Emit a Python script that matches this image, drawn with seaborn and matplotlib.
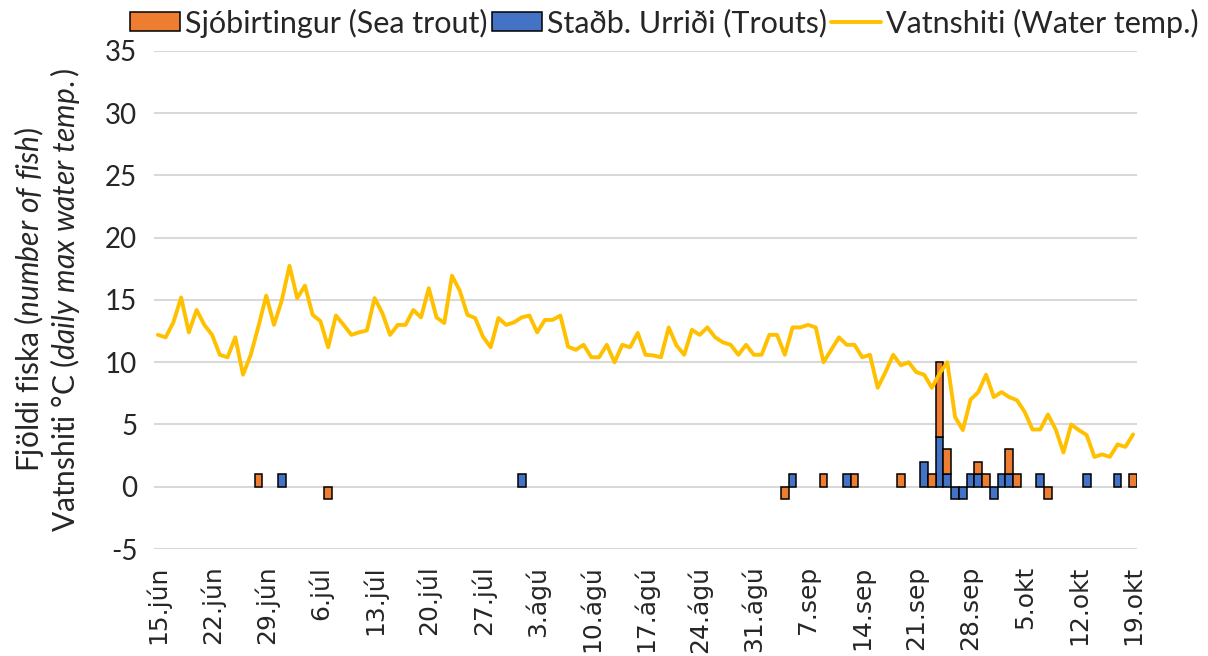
import numpy as np
import matplotlib
matplotlib.use("Agg")
import matplotlib.pyplot as plt
import seaborn as sns
from matplotlib.patches import Patch
from matplotlib.lines import Line2D

# daily max water temperature, 15 Jun .. 19 Oct (day 0 .. 126)
temp = [
    12.2, 12.0, 13.2, 15.2, 12.4, 14.2, 13.0, 12.2, 10.6, 10.4, 12.0, 9.0, 10.6, 12.9, 15.35, 13.0, 14.95, 17.75, 15.15, 16.15, 13.8, 13.3,
    11.2, 13.75, 13.0, 12.2, 12.4, 12.55, 15.15, 13.95, 12.2, 13.0, 13.0, 14.2, 13.6, 15.95, 13.6, 13.15, 16.95, 15.75, 13.8, 13.55, 12.05,
    11.2, 13.55, 13.0, 13.2, 13.6, 13.75, 12.4, 13.4, 13.4, 13.75, 11.25, 11.0, 11.4, 10.4, 10.4, 11.4, 10.0, 11.4, 11.2, 12.35, 10.6, 10.55,
    10.4, 12.8, 11.35, 10.6, 12.6, 12.2, 12.8, 12.0, 11.6, 11.4, 10.6, 11.4, 10.6, 10.6, 12.2, 12.2, 10.6, 12.8, 12.8, 13.0, 12.8, 10.0,
    11.0, 12.0, 11.4, 11.4, 10.4, 10.6, 7.95, 9.2, 10.6, 9.75, 10.0, 9.2, 9.0, 7.95, 9.1, 10.0, 5.6, 4.55, 7.0, 7.6, 9.0,
    7.2, 7.6, 7.2, 6.95, 6.0, 4.6, 4.6, 5.8, 4.6, 2.75, 5.0, 4.55, 4.15, 2.4, 2.6, 2.4, 3.4, 3.2, 4.2,
]

# fish counts (day index -> count, negative = downstream)
sea_days = [13, 22, 81, 86, 90, 96, 100, 101, 102, 106, 107, 110, 111, 115, 126]
sea_counts = [1, -1, -1, 1, 1, 1, 1, 6, 2, 1, 1, 2, 1, -1, 1]
trout_days = [16, 47, 82, 89, 99, 101, 102, 103, 104, 105, 106, 108, 109, 110, 114, 120, 124]
trout_counts = [1, 1, 1, 1, 2, 4, 1, -1, -1, 1, 1, -1, 1, 1, 1, 1, 1]

tick_labels = ["15.jún", "22.jún", "29.jún", "6.júl", "13.júl", "20.júl", "27.júl",
               "3.ágú", "10.ágú", "17.ágú", "24.ágú", "31.ágú", "7.sep", "14.sep",
               "21.sep", "28.sep", "5.okt", "12.okt", "19.okt"]

n_days = len(temp)
days = np.arange(n_days)
sea = np.zeros(n_days)
sea[sea_days] = sea_counts
trout = np.zeros(n_days)
trout[trout_days] = trout_counts
# orange stacks on blue when both go the same way
sea_bottom = np.where(np.sign(sea) == np.sign(trout), trout, 0)

sns.set_theme(style="white")
plt.rcParams["font.family"] = ["Lato", "DejaVu Sans"]
plt.rcParams["mathtext.fontset"] = "custom"
plt.rcParams["mathtext.rm"] = "Lato"
plt.rcParams["mathtext.it"] = "Lato:italic"
plt.rcParams["axes.unicode_minus"] = False

ORANGE = "#ED7D31"
BLUE = "#4472C4"
YELLOW = "#FFC000"

fig = plt.figure(figsize=(12.08, 6.56), dpi=100)
ax = fig.add_axes([0.1275, 0.1631, 0.8137, 0.7592])

m = trout != 0
ax.bar(days[m], trout[m], width=1.0, color=BLUE, edgecolor="black", linewidth=1.1, zorder=2)
m = sea != 0
ax.bar(days[m], sea[m], width=1.0, bottom=sea_bottom[m], color=ORANGE, edgecolor="black",
       linewidth=1.1, zorder=2)
sns.lineplot(x=days, y=temp, ax=ax, color=YELLOW, linewidth=2.8, zorder=3)

ax.set_xlim(-0.5, n_days - 0.5)
ax.set_ylim(-5, 35)
ax.set_yticks(np.arange(-5, 36, 5))
ax.set_xticks(days[::7])
ax.set_xticklabels(tick_labels, rotation=90, fontsize=18, family="DejaVu Sans")
ax.tick_params(axis="y", labelsize=20, pad=12, length=0)
ax.tick_params(axis="x", pad=12, length=0)
ax.yaxis.grid(True, color="#d9d9d9", linewidth=1.5)
ax.set_axisbelow(True)
for s in ax.spines.values():
    s.set_visible(False)
ax.set_xlabel("")
ax.set_ylabel("")

fig.text(0.024, 0.543, r"Fjöldi fiska ($\it{number\ of\ fish}$)", rotation=90,
         ha="center", va="center", fontsize=21.5)
fig.text(0.054, 0.543, r"Vatnshiti °C ($\it{daily\ max\ water\ temp.}$)", rotation=90,
         ha="center", va="center", fontsize=21.5)

handles = [
    Patch(facecolor=ORANGE, edgecolor="black", linewidth=1.1),
    Patch(facecolor=BLUE, edgecolor="black", linewidth=1.1),
    Line2D([0], [0], color=YELLOW, linewidth=2.8),
]
labels = ["Sjóbirtingur (Sea trout)", "Staðb. Urriði (Trouts)", "Vatnshiti (Water temp.)"]
fig.legend(handles, labels, loc="center", bbox_to_anchor=(0.55, 0.965), ncol=3,
           frameon=False, fontsize=22, handlelength=1.64, handleheight=0.6,
           handletextpad=0.15, columnspacing=0.15, borderaxespad=0)

fig.savefig("out.png", dpi=100)
